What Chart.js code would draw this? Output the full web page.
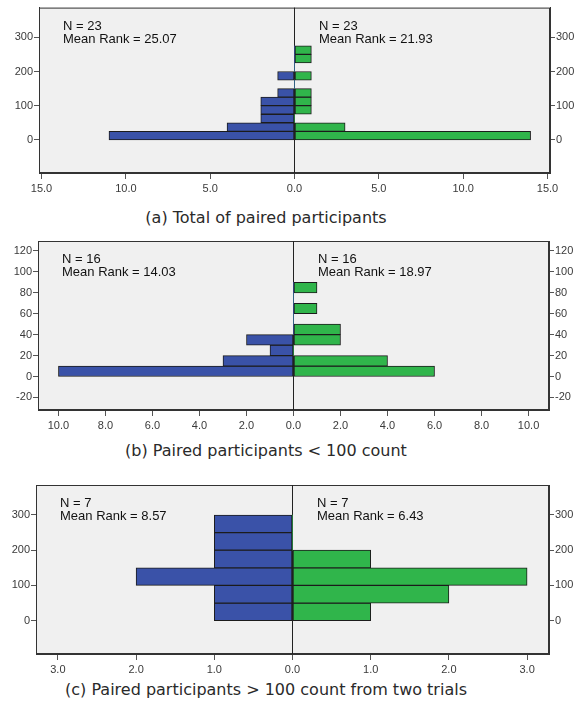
<!DOCTYPE html>
<html><head><meta charset="utf-8">
<script src="https://cdn.jsdelivr.net/npm/chart.js@4.4.1/dist/chart.umd.min.js"></script>
<style>
html,body{margin:0;padding:0;background:#fff;}
#wrap{position:relative;width:577px;height:711px;overflow:hidden;background:#fff;}
canvas{position:absolute;left:0;}
.stat{position:absolute;font:13px/13px "Liberation Sans",Arial,sans-serif;color:#111;white-space:pre;}
.cap{position:absolute;left:0;width:532px;text-align:center;font:16px/20px "DejaVu Sans",sans-serif;color:#2a2a2a;}
</style></head><body>
<div id="wrap">
<canvas id="ca" width="577" height="200" style="top:0px"></canvas>
<canvas id="cb" width="577" height="205" style="top:230px"></canvas>
<canvas id="cc" width="577" height="205" style="top:475px"></canvas>
<div class="cap" style="top:208px">(a) Total of paired participants</div>
<div class="cap" style="top:441px">(b) Paired participants &lt; 100 count</div>
<div class="cap" style="top:680px">(c) Paired participants &gt; 100 count from two trials</div>
</div>
<script>
// ---------- data ----------
// (a) Total of paired participants
const binStartA = [0, 25, 50, 75, 100, 125, 150, 175, 200, 225, 250];
const binWidthA = 25;
const leftA  = [11, 4, 2, 2, 2, 1, 0, 1, 0, 0, 0];
const rightA = [14, 3, 0, 1, 1, 1, 0, 1, 0, 1, 1];
const yTicksA = [0, 100, 200, 300];
const xTicksA = [-15, -10, -5, 0, 5, 10, 15];
const nA = [23, 23];
const meanRankA = ["25.07", "21.93"];

// (b) Paired participants < 100 count
const binStartB = [0, 10, 20, 30, 40, 50, 60, 70, 80];
const binWidthB = 10;
const leftB  = [10, 3, 1, 2, 0, 0, 0, 0, 0];
const rightB = [6, 4, 0, 2, 2, 0, 1, 0, 1];
const yTicksB = [-20, 0, 20, 40, 60, 80, 100, 120];
const xTicksB = [-10, -8, -6, -4, -2, 0, 2, 4, 6, 8, 10];
const nB = [16, 16];
const meanRankB = ["14.03", "18.97"];

// (c) Paired participants > 100 count from two trials
const binStartC = [0, 50, 100, 150, 200, 250];
const binWidthC = 50;
const leftC  = [1, 1, 2, 1, 1, 1];
const rightC = [1, 2, 3, 1, 0, 0];
const yTicksC = [0, 100, 200, 300];
const xTicksC = [-3, -2, -1, 0, 1, 2, 3];
const nC = [7, 7];
const meanRankC = ["8.57", "6.43"];

// ---------- drawing ----------
const BLUE = '#3a52a8', GREEN = '#30b54b', EDGE = '#1c1c1c';
const TICKFONT = {family: '"Liberation Sans", Arial, sans-serif', size: 11};

const framePlugin = {
  id: 'frame',
  beforeDraw(chart) {
    const {ctx, chartArea: a} = chart;
    ctx.save();
    ctx.fillStyle = '#f0f0f0';
    ctx.fillRect(a.left, a.top, a.right - a.left, a.bottom - a.top);
    ctx.strokeStyle = '#333';
    ctx.lineWidth = 1;
    ctx.strokeRect(a.left + 0.5, a.top + 0.5, a.right - a.left - 1, a.bottom - a.top - 1);
    ctx.restore();
  }
};

function setTicks(list) {
  return (scale) => { scale.ticks = list.map(v => ({value: v})); };
}

function makePanel(p) {
  const mk = (vals, sign) => p.bins.map((b, i) => ({x: sign * vals[i], y: b + p.binWidth / 2}));
  const yCommon = {
    type: 'linear', min: p.yMin, max: p.yMax, offset: false,
    afterBuildTicks: setTicks(p.yTicks),
    grid: {drawOnChartArea: false, offset: false, tickLength: 5, tickColor: '#555'},
    border: {display: true, color: '#333', width: 1},
    ticks: {font: TICKFONT, color: '#3a3a3a', padding: 1}
  };
  const chart = new Chart(document.getElementById(p.id), {
    type: 'bar',
    data: {
      datasets: [
        {data: mk(p.left, -1), backgroundColor: BLUE},
        {data: mk(p.right, 1), backgroundColor: GREEN}
      ]
    },
    options: {
      indexAxis: 'y',
      responsive: false,
      animation: false,
      devicePixelRatio: 1,
      layout: {padding: {top: p.padTop, left: 0, right: 0, bottom: 0}},
      datasets: {bar: {grouped: false, barPercentage: 1, categoryPercentage: 1,
        borderWidth: (ctx) => (ctx.raw && ctx.raw.x === 0 ? 0 : 1),
        borderColor: EDGE, borderSkipped: false}},
      plugins: {legend: {display: false}, tooltip: {enabled: false}},
      scales: {
        x: {
          type: 'linear', min: -p.xLim, max: p.xLim, offset: false,
          afterBuildTicks: setTicks(p.xTicks),
          afterFit: (s) => { s.height = p.xH; },
          grid: {drawOnChartArea: true, offset: false, tickLength: 6, tickColor: '#555',
                 color: (ctx) => (ctx.tick && ctx.tick.value === 0 ? '#222' : 'rgba(0,0,0,0)')},
          border: {display: true, color: '#333', width: 1},
          ticks: {font: TICKFONT, color: '#3a3a3a', padding: 3, maxRotation: 0,
                  callback: (v) => Math.abs(v).toFixed(1)}
        },
        y: Object.assign({}, yCommon, {position: 'left', afterFit: (s) => { s.width = p.leftW; }}),
        y2: Object.assign({}, yCommon, {position: 'right', afterFit: (s) => { s.width = p.rightW; }})
      }
    },
    plugins: [framePlugin]
  });
  // statistics text
  const wrap = document.getElementById('wrap');
  const a = chart.chartArea;
  const zeroX = chart.scales.x.getPixelForValue(0);
  const xs = [a.left + 24, zeroX + 24.5];
  for (let k = 0; k < 2; k++) {
    const d = document.createElement('div');
    d.className = 'stat';
    d.style.left = xs[k] + 'px';
    d.style.top = (p.canvasTop + a.top + 11) + 'px';
    d.textContent = 'N = ' + p.n[k] + '\nMean Rank = ' + p.mean[k];
    wrap.appendChild(d);
  }
  return chart;
}

makePanel({id: 'ca', canvasTop: 0, bins: binStartA, binWidth: binWidthA, left: leftA, right: rightA,
  yTicks: yTicksA, xTicks: xTicksA, n: nA, mean: meanRankA,
  yMin: -97, yMax: 387, xLim: 15.15, padTop: 6, xH: 27, leftW: 39, rightW: 27});
makePanel({id: 'cb', canvasTop: 230, bins: binStartB, binWidth: binWidthB, left: leftB, right: rightB,
  yTicks: yTicksB, xTicks: xTicksB, n: nB, mean: meanRankB,
  yMin: -32, yMax: 129.5, xLim: 10.87, padTop: 11, xH: 25, leftW: 38, rightW: 28});
makePanel({id: 'cc', canvasTop: 475, bins: binStartC, binWidth: binWidthC, left: leftC, right: rightC,
  yTicks: yTicksC, xTicks: xTicksC, n: nC, mean: meanRankC,
  yMin: -94.5, yMax: 385, xLim: 3.28, padTop: 10, xH: 26, leftW: 36, rightW: 28});
</script>
</body></html>
